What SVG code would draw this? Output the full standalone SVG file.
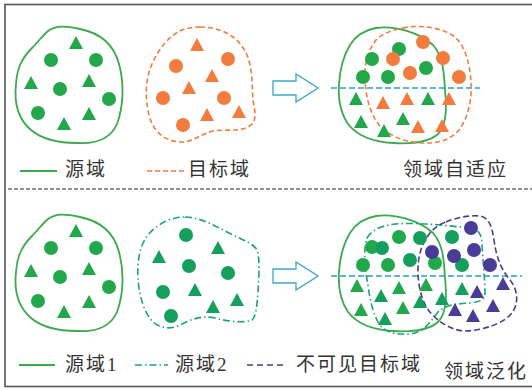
<svg xmlns="http://www.w3.org/2000/svg" xmlns:xlink="http://www.w3.org/1999/xlink" width="532" height="390" viewBox="0 0 532 390">
<style>
.txt{font-family:"Noto Sans CJK SC","Liberation Sans",sans-serif;font-size:19px;fill:#333;letter-spacing:2px}
.num{font-family:"Liberation Serif",serif}
.g1{fill:#22a84a}
.g2{fill:#159f5c}
.or{fill:#f27c3e}
.pu{fill:#4a3b98}
.gl{fill:none;stroke:#3aaa4c;stroke-width:1.8}
.ol{fill:none;stroke:#f27c3e;stroke-width:1.6;stroke-dasharray:5,3}
.tl{fill:none;stroke:#1aa673;stroke-width:1.6;stroke-dasharray:7,3,1.5,3}
.pl{fill:none;stroke:#4a3b98;stroke-width:1.6;stroke-dasharray:6,3}
.cy{fill:none;stroke:#2a9fc9;stroke-width:1.5;stroke-dasharray:6,3}
.arr{fill:#fff;stroke:#3ba6c8;stroke-width:1.3}
</style>
<defs>
<path id="t" d="M0,-7 L7,6 L-7,6 Z"/>
<circle id="c" r="7"/>
<path id="blobA" d="M48,31 C56,25 66,26 80,29 C100,33 114,45 119,64 C124,82 124,105 117,124 C110,140 94,144 77,143 C60,143 43,140 31,130 C18,119 14,102 16,84 C17,68 22,58 32,48 C38,42 43,35 48,31 Z"/>
<path id="blobB" d="M376,28 C395,25 420,33 433,45 C443,56 444,72 445,90 C447,108 447,125 438,134 C428,143 410,144 393,143 C375,142 358,137 348,124 C340,112 338,98 339,84 C340,68 344,55 350,45 C356,35 365,30 376,28 Z"/>
<path id="arrow" d="M273,81 L296,81 L296,74 L318,88 L296,102 L296,95 L273,95 Z"/>
</defs>

<rect x="5" y="4.5" width="540" height="382" fill="none" stroke="#555" stroke-width="1.6"/>
<line x1="8" y1="189" x2="532" y2="189" stroke="#222" stroke-width="1.2" stroke-dasharray="4,2"/>

<g id="source-domain">
<use href="#blobA" class="gl"/>
<g class="g1">
<use href="#t" x="76" y="43"/><use href="#c" x="51" y="60"/><use href="#c" x="96" y="60"/>
<use href="#t" x="31" y="83"/><use href="#c" x="60" y="89"/><use href="#t" x="89" y="81"/>
<use href="#c" x="109" y="99"/><use href="#c" x="38" y="113"/><use href="#t" x="64" y="124"/>
<use href="#t" x="89" y="114"/>
</g>
</g>

<g id="target-domain">
<path class="ol" d="M200,27 C218,27 238,34 247,55 C253,70 252,88 253,100 C255,112 258,122 248,127 C238,132 224,129 213,131 C200,134 192,143 180,142 C165,141 153,132 149,115 C145,98 145,80 152,64 C159,48 170,35 182,30 C188,28 194,27 200,27 Z"/>
<g class="or">
<use href="#t" x="197" y="45"/><use href="#c" x="176" y="66"/><use href="#c" x="228" y="59"/>
<use href="#t" x="212" y="76"/><use href="#t" x="189" y="88"/><use href="#c" x="163" y="98"/>
<use href="#c" x="224" y="98"/><use href="#t" x="207" y="115"/><use href="#t" x="239" y="112"/>
<use href="#c" x="183" y="125"/>
</g>
</g>

<g id="connectors">
<use href="#arrow" class="arr"/>
<use href="#arrow" class="arr" y="188"/>
<line class="cy" x1="331" y1="88" x2="480" y2="88"/>
<line class="cy" x1="331" y1="276" x2="522" y2="276"/>
</g>

<g id="domain-adaptation">
<use href="#blobB" class="gl"/>
<path class="ol" d="M403,28 C420,24 445,28 456,38 C466,48 470,65 471,83 C472,100 468,118 459,130 C450,140 440,143 425,143 C408,143 390,137 380,126 C370,114 366,98 365,80 C364,64 368,50 376,40 C384,32 394,30 403,28 Z"/>
<g class="g1">
<use href="#c" x="399" y="49"/><use href="#c" x="372" y="59"/><use href="#c" x="363" y="77"/>
<use href="#c" x="388" y="77"/><use href="#c" x="426" y="68"/>
<use href="#t" x="356" y="99"/><use href="#t" x="428" y="99"/><use href="#t" x="361" y="122"/>
<use href="#t" x="403" y="119"/><use href="#t" x="384" y="131"/>
</g>
<g class="or">
<use href="#c" x="423" y="42"/><use href="#c" x="393" y="59"/><use href="#c" x="443" y="58"/>
<use href="#c" x="410" y="73"/><use href="#c" x="459" y="77"/>
<use href="#t" x="383" y="103"/><use href="#t" x="407" y="99"/><use href="#t" x="449" y="99"/>
<use href="#t" x="418" y="127"/><use href="#t" x="442" y="126"/>
</g>
</g>

<g id="legend-top">
<line x1="20" y1="171" x2="57" y2="171" stroke="#3aaa4c" stroke-width="1.8"/>
<text class="txt" x="65" y="176">源域</text>
<line x1="147" y1="171" x2="185" y2="171" stroke="#f27c3e" stroke-width="1.6" stroke-dasharray="5,3"/>
<text class="txt" x="188" y="176">目标域</text>
<text class="txt" x="403" y="176">领域自适应</text>
</g>

<g id="source-domain-1">
<use href="#blobA" class="gl" y="188"/>
<g class="g1" transform="translate(0,188)">
<use href="#t" x="76" y="43"/><use href="#c" x="51" y="60"/><use href="#c" x="96" y="60"/>
<use href="#t" x="31" y="83"/><use href="#c" x="60" y="89"/><use href="#t" x="89" y="81"/>
<use href="#c" x="109" y="99"/><use href="#c" x="38" y="113"/><use href="#t" x="64" y="124"/>
<use href="#t" x="89" y="114"/>
</g>
</g>

<g id="source-domain-2">
<path class="tl" d="M185,217 C200,217 215,226 233,235 C245,241 254,244 257,250 C260,258 259,275 258,292 C257,305 256,317 252,320 C245,323 230,322 215,318 C200,315 190,320 180,325 C170,330 160,328 153,322 C144,313 139,295 138,278 C137,260 140,245 148,235 C156,225 170,217 185,217 Z"/>
<g class="g2">
<use href="#c" x="186" y="235"/><use href="#t" x="218" y="248"/><use href="#t" x="159" y="257"/>
<use href="#c" x="189" y="266"/><use href="#c" x="228" y="273"/><use href="#c" x="163" y="292"/>
<use href="#t" x="195" y="290"/><use href="#t" x="237" y="300"/><use href="#t" x="213" y="307"/>
<use href="#c" x="171" y="316"/>
</g>
</g>

<g id="domain-generalization">
<use href="#blobB" class="gl" y="188"/>
<path class="tl" d="M367,238 C372,230 380,226 395,224 C420,222 450,226 470,228 C478,229 482,233 482,245 C483,262 485,280 485,293 C485,300 480,302 470,303 C455,304 445,305 438,312 C430,322 425,332 410,334 C395,335 383,332 378,322 C372,310 370,300 368,285 C365,270 363,250 367,238 Z"/>
<path class="pl" d="M446,222 C455,218 468,215 480,216 C490,218 492,228 494,240 C496,255 500,268 510,280 C518,290 519,303 512,313 C504,323 485,330 466,331 C452,331 438,322 429,311 C421,300 418,285 418,270 C418,255 422,243 430,233 C435,227 440,224 446,222 Z"/>
<g class="g1">
<use href="#c" x="372" y="247"/><use href="#c" x="399" y="237"/><use href="#c" x="363" y="265"/>
<use href="#c" x="388" y="265"/><use href="#c" x="435" y="263"/>
<use href="#t" x="357" y="286"/><use href="#t" x="399" y="288"/><use href="#t" x="361" y="310"/>
<use href="#t" x="403" y="308"/><use href="#t" x="426" y="285"/>
</g>
<g class="g2">
<use href="#c" x="382" y="248"/><use href="#c" x="420" y="238"/><use href="#c" x="410" y="260"/>
<use href="#c" x="452" y="237"/><use href="#c" x="462" y="265"/>
<use href="#t" x="381" y="296"/><use href="#t" x="420" y="302"/><use href="#t" x="442" y="299"/>
<use href="#t" x="385" y="319"/><use href="#t" x="462" y="289"/>
</g>
<g class="pu">
<use href="#c" x="471" y="228"/><use href="#c" x="432" y="252"/><use href="#c" x="454" y="256"/>
<use href="#c" x="474" y="250"/><use href="#c" x="490" y="265"/>
<use href="#t" x="477" y="292"/><use href="#t" x="503" y="284"/><use href="#t" x="455" y="310"/>
<use href="#t" x="473" y="316"/><use href="#t" x="493" y="306"/>
</g>
</g>

<g id="legend-bottom">
<line x1="19" y1="365" x2="55" y2="365" stroke="#3aaa4c" stroke-width="1.8"/>
<text class="txt" x="65" y="371">源域<tspan class="num">1</tspan></text>
<line x1="135" y1="365" x2="168" y2="365" stroke="#1aa673" stroke-width="1.6" stroke-dasharray="7,3,1.5,3"/>
<text class="txt" x="175" y="371">源域<tspan class="num">2</tspan></text>
<line x1="247" y1="365" x2="285" y2="365" stroke="#4a3b98" stroke-width="1.6" stroke-dasharray="6,4"/>
<text class="txt" x="296" y="371">不可见目标域</text>
<text class="txt" x="444" y="378">领域泛化</text>
</g>
</svg>
